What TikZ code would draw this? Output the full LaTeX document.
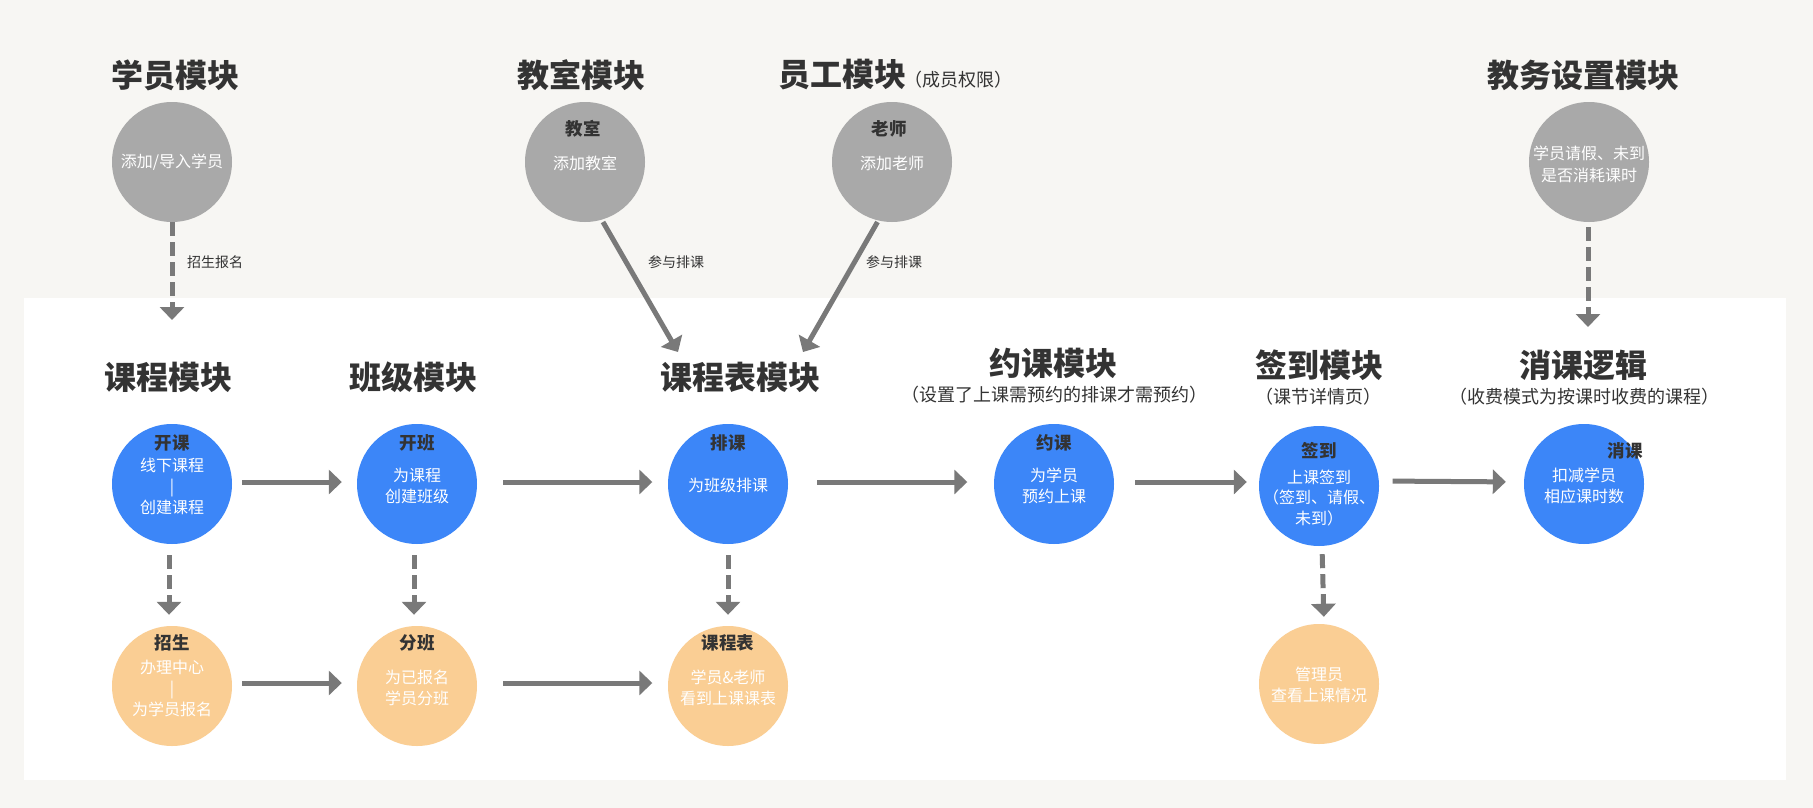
\documentclass[tikz,border=0pt]{standalone}
\usepackage{fontspec}
\setmainfont{Noto Sans CJK SC}
\usetikzlibrary{arrows.meta,shapes.geometric}
\definecolor{bgc}{HTML}{F7F6F3}
\definecolor{grayc}{HTML}{A9A9A9}
\definecolor{bluec}{HTML}{3C86F8}
\definecolor{orangec}{HTML}{FACE94}
\definecolor{arrc}{HTML}{797979}
\definecolor{txtc}{HTML}{333333}
\tikzset{
  bub/.style={circle, draw=none, inner sep=0pt, minimum size=120pt},
  gbub/.style={bub, fill=grayc},
  bbub/.style={bub, fill=bluec},
  obub/.style={bub, fill=orangec},
  ttl/.style={inner sep=0pt, text=txtc, font=\fontsize{32}{36}\selectfont\bfseries},
  subttl/.style={inner sep=0pt, text=txtc, font=\fontsize{18}{20}\selectfont},
  nm/.style={inner sep=0pt, text=txtc, font=\fontsize{17.5}{20}\selectfont\bfseries},
  body/.style={inner sep=0pt, text=white, align=center, font=\fontsize{16}{21}\selectfont},
  lbl/.style={inner sep=0pt, text=txtc, font=\fontsize{14}{16}\selectfont},
  flow/.style={draw=arrc, line width=5pt, -{Triangle[length=13pt,width=24pt]}},
  dflow/.style={flow, dash pattern=on 14pt off 6pt},
}
\begin{document}
\begin{tikzpicture}[x=1pt,y=-1pt]
\fill[bgc] (0,0) rectangle (1813,808);
\fill[white] (24,298) rectangle (1786,780);
\useasboundingbox (0,0) rectangle (1813,808);

% top titles
\node[ttl] (tXY) at (175,75) {学员模块};
\node[ttl] (tJS) at (581,75) {教室模块};
\node[ttl] (tYG) at (842,75) {员工模块};
\node[subttl, anchor=west] (tYGs) at (904,80) {（成员权限）};
\node[ttl] (tJW) at (1583,75) {教务设置模块};

% top circles
\node[gbub] (xy) at (172,162) {};
\node[body] (xyB) at (172,162) {添加/导入学员};
\node[gbub] (js) at (585,162) {};
\node[nm] (jsN) at (583,129) {教室};
\node[body] (jsB) at (585,163) {添加教室};
\node[gbub] (ls) at (892,162) {};
\node[nm] (lsN) at (889,129) {老师};
\node[body] (lsB) at (892,163) {添加老师};
\node[gbub] (jw) at (1589,162) {};
\node[body, font=\fontsize{16}{22}\selectfont] (jwB) at (1589,164) {学员请假、未到\\是否消耗课时};

% middle titles
\node[ttl] (tKC) at (168,377) {课程模块};
\node[ttl] (tBJ) at (413,377) {班级模块};
\node[ttl] (tKB) at (740,377) {课程表模块};
\node[ttl] (tYK) at (1053,363) {约课模块};
\node[subttl] (tYKs) at (1054,395) {（设置了上课需预约的排课才需预约）};
\node[ttl] (tQD) at (1319,365) {签到模块};
\node[subttl] (tQDs) at (1318,397) {（课节详情页）};
\node[ttl] (tXK) at (1583,365) {消课逻辑};
\node[subttl] (tXKs) at (1584,397) {（收费模式为按课时收费的课程）};

% blue row
\node[bbub] (kk) at (172,484) {};
\node[nm] (kkN) at (172,443) {开课};
\node[body] (kkB) at (172,486) {线下课程\\|\\创建课程};
\node[bbub] (kb) at (417,484) {};
\node[nm] (kbN) at (417,443) {开班};
\node[body] (kbB) at (417,485.5) {为课程\\创建班级};
\node[bbub] (pk) at (728,484) {};
\node[nm] (pkN) at (728,443) {排课};
\node[body] (pkB) at (728,485) {为班级排课};
\node[bbub] (yk) at (1054,484) {};
\node[nm] (ykN) at (1054,443) {约课};
\node[body] (ykB) at (1054,485.5) {为学员\\预约上课};
\node[bbub] (qd) at (1319,486) {};
\node[nm] (qdN) at (1319,451) {签到};
\node[body, font=\fontsize{16}{20.5}\selectfont] (qdB) at (1319,498) {上课签到\\（签到、请假、\\未到）};
\node[bbub] (xk) at (1584,484) {};
\node[nm] (xkN) at (1625,451) {消课};
\node[body] (xkB) at (1584,485.5) {扣减学员\\相应课时数};

% orange row
\node[obub] (zs) at (172,686) {};
\node[nm] (zsN) at (172,643) {招生};
\node[body] (zsB) at (172,688) {办理中心\\|\\为学员报名};
\node[obub] (fb) at (417,686) {};
\node[nm] (fbN) at (417,643) {分班};
\node[body] (fbB) at (417,687.5) {为已报名\\学员分班};
\node[obub] (kbb) at (728,686) {};
\node[nm] (kbbN) at (728,643) {课程表};
\node[body] (kbbB) at (728,687.5) {学员\&老师\\看到上课课表};
\node[obub] (gly) at (1319,684) {};
\node[body] (glyB) at (1319,684.5) {管理员\\查看上课情况};

% connector end points
\coordinate (eKC) at (172,320);
\coordinate (eXK) at (1588,327);
\coordinate (eKB1) at (678,352);
\coordinate (eKB2) at (803,352);
\coordinate (sJS) at (603,222);
\coordinate (sLS) at (877.5,222);
\coordinate (sJW) at (1588,227);

% top connectors
\draw[dflow] (xy.south) -- (eKC);
\node[lbl] (l1) at (215,262) {招生报名};
\draw[dflow] (sJW) -- (eXK);
\draw[flow] (sJS) -- (eKB1);
\node[lbl] (l2) at (676,262) {参与排课};
\draw[flow] (sLS) -- (eKB2);
\node[lbl] (l3) at (894,262) {参与排课};

% horizontal flows
\draw[flow, shorten <=10pt, shorten >=15pt] ([yshift=2pt]kk.east) -- ([yshift=2pt]kb.west);
\draw[flow, shorten <=26pt, shorten >=15.5pt] ([yshift=2pt]kb.east) -- ([yshift=2pt]pk.west);
\draw[flow, shorten <=29pt, shorten >=26.5pt] ([yshift=2pt]pk.east) -- ([yshift=2pt]yk.west);
\draw[flow, shorten <=21pt, shorten >=12pt] ([yshift=2pt]yk.east) -- ([yshift=4pt]qd.west);
\draw[flow, shorten <=13.5pt, shorten >=18pt] ([yshift=5pt]qd.east) -- ([yshift=2pt]xk.west);
\draw[flow, shorten <=10pt, shorten >=15pt] ([yshift=3pt]zs.east) -- ([yshift=3pt]fb.west);
\draw[flow, shorten <=26pt, shorten >=15.5pt] ([yshift=3pt]fb.east) -- ([yshift=3pt]kbb.west);

% vertical dashed flows
\draw[dflow, shorten <=11pt, shorten >=11pt] ([xshift=-3pt]kk.south) -- ([xshift=-3pt]zs.north);
\draw[dflow, shorten <=11pt, shorten >=11pt] ([xshift=-3pt]kb.south) -- ([xshift=-3pt]fb.north);
\draw[dflow, shorten <=11pt, shorten >=11pt] (pk.south) -- (kbb.north);
\draw[dflow, shorten <=8pt, shorten >=7pt] ([xshift=3pt]qd.south) -- ([xshift=5pt]gly.north);
\end{tikzpicture}
\end{document}
